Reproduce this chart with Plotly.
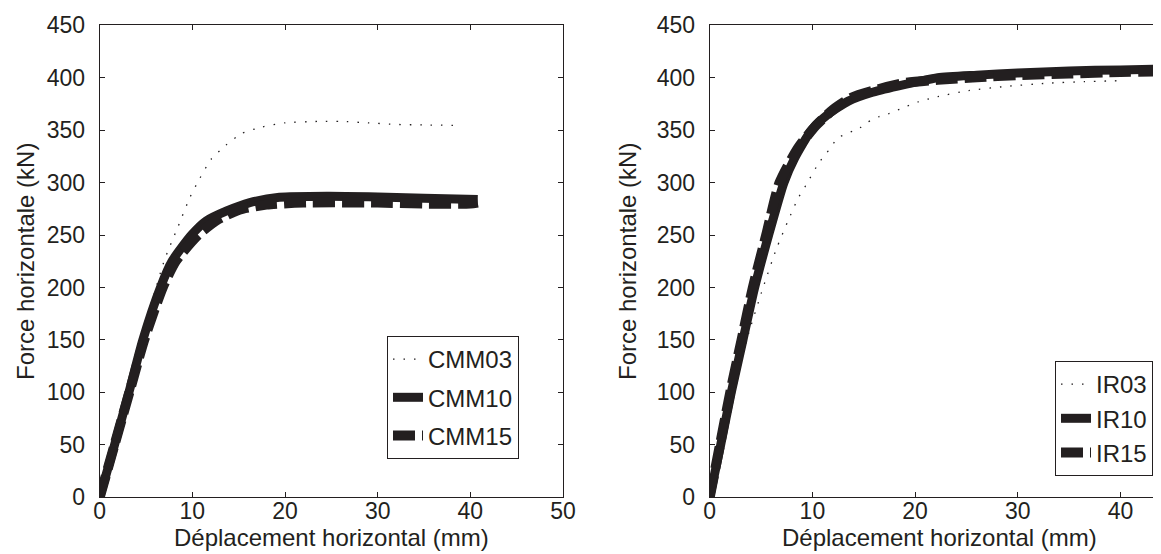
import plotly.graph_objects as go

# ---------------- data ----------------
# Left panel: CMM series  (x: mm, y: kN)
cmm03_x = [0, 1.5, 3.0, 4.4, 5.75, 7.0, 8.45, 9.74, 10.8, 12.0, 13.6, 15.3, 17.5, 20.0, 23.7, 26.0, 29.0, 32.0, 35.0, 39.1]
cmm03_y = [0, 50, 100, 150, 190, 226.5, 258, 286, 304, 322, 335.6, 346.7, 353, 357, 358.4, 358.4, 357, 355.5, 355, 354.5]

cmm10_x = [0, 1.6, 3.15, 4.65, 6.55, 7.8, 9.9, 11.5, 13.7, 16.2, 19.4, 24.5, 29.0, 35.0, 40.8]
cmm10_y = [0, 50, 100, 150, 200, 225, 250, 263.5, 273, 281, 286, 287, 286.5, 285, 284]

cmm15_x = [0, 1.6, 3.2, 4.8, 6.8, 8.2, 10.6, 12.8, 15.0, 18.0, 22.0, 30.0, 35.0, 40.0, 40.8]
cmm15_y = [0, 50, 100, 150, 200, 225, 250, 265, 274, 279, 281, 281, 280, 280, 281]

# Right panel: IR series
ir03_x = [0, 1.2, 2.3, 3.6, 5.2, 6.5, 7.56, 8.6, 9.4, 10.7, 11.3, 12.5, 14.6, 15.4, 16.5, 17.5, 18.5, 20.3, 22.2, 25.2, 28.9, 32.8, 36.5, 39.9]
ir03_y = [0, 50, 100, 150, 200, 237, 262, 285, 298, 320, 327, 342.6, 352, 357.8, 363, 366, 370, 377, 382, 387.7, 391.8, 394.7, 396.3, 397.2]

ir10_x = [0, 1.07, 2.1, 3.24, 4.38, 5.74, 7.23, 8.28, 9.9, 11.5, 13.5, 15.7, 18.3, 22.2, 26.0, 30.0, 35.0, 40.0, 45.0]
ir10_y = [0, 50, 100, 150, 200, 250, 300, 323.5, 350, 365, 377.7, 385.7, 392, 400, 402.5, 404.5, 406.5, 407.5, 408.5]

ir15_x = [0, 1.0, 2.0, 3.1, 4.2, 5.5, 6.8, 8.6, 10.4, 12.0, 13.8, 16.4, 19.0, 22.2, 26.0, 30.0, 35.0, 40.0, 45.0]
ir15_y = [0, 50, 100, 150, 200, 250, 300, 333, 355, 369.5, 381, 389, 395, 398, 400.5, 402.5, 404, 405.5, 406]

x_ticks_left = [0, 10, 20, 30, 40, 50]
x_ticks_right = [0, 10, 20, 30, 40]
y_ticks = [0, 50, 100, 150, 200, 250, 300, 350, 400, 450]

x_title = "Déplacement horizontal (mm)"
y_title = "Force horizontale (kN)"

# ---------------- styling ----------------
INK = "#231f20"
FONT = "Liberation Sans, Arial, Helvetica, sans-serif"
FS = 24
FS_TICK = 23
W, H = 1161, 554

DOT = dict(color=INK, width=1.3, dash="1.5px,9px")
SOLID = dict(color=INK, width=9)
DASH = dict(color=INK, width=10, dash="22px,7px")

fig = go.Figure()

series_left = [("CMM03", cmm03_x, cmm03_y, DOT),
               ("CMM10", cmm10_x, cmm10_y, SOLID),
               ("CMM15", cmm15_x, cmm15_y, DASH)]
series_right = [("IR03", ir03_x, ir03_y, DOT),
                ("IR10", ir10_x, ir10_y, SOLID),
                ("IR15", ir15_x, ir15_y, DASH)]

for name, xs, ys, ln in series_left:
    fig.add_trace(go.Scatter(x=xs, y=ys, name=name, mode="lines",
                             line=dict(shape="spline", smoothing=0.6, **ln),
                             xaxis="x", yaxis="y", legend="legend",
                             legendgroup=name))
for name, xs, ys, ln in series_right:
    fig.add_trace(go.Scatter(x=xs, y=ys, name=name, mode="lines",
                             line=dict(shape="spline", smoothing=0.6, **ln),
                             xaxis="x2", yaxis="y2", legend="legend2",
                             legendgroup=name))

def px_x(p):
    return p / W

def px_y(p):
    return (H - p) / H

axis_common = dict(
    showline=True, linecolor=INK, linewidth=1, mirror="ticks",
    ticks="inside", ticklen=5, tickwidth=1, tickcolor=INK,
    showgrid=False, zeroline=False,
    tickfont=dict(family=FONT, size=FS_TICK, color=INK),
    title_font=dict(family=FONT, size=FS, color=INK),
    automargin=False,
)

y_dom = [px_y(489.3), px_y(17.3)]

fig.update_layout(
    width=W, height=H,
    margin=dict(l=0, r=0, t=0, b=0, pad=0),
    paper_bgcolor="white", plot_bgcolor="white",
    font=dict(family=FONT, size=FS, color=INK),
    xaxis=dict(domain=[px_x(91.7), px_x(555)], range=[0, 50], tickvals=x_ticks_left,
               anchor="y", title=dict(text=x_title, standoff=3), ticklabelstandoff=-7, **axis_common),
    yaxis=dict(domain=y_dom, range=[0, 450], tickvals=y_ticks, anchor="x",
               title=dict(text=y_title, standoff=5), ticklabelstandoff=9, **axis_common),
    xaxis2=dict(domain=[px_x(701.7), 1.0], range=[0, (W - 701.7) / 10.27], tickvals=x_ticks_right,
                anchor="y2", title=dict(text=x_title, standoff=3), ticklabelstandoff=-7, **axis_common),
    yaxis2=dict(domain=y_dom, range=[0, 450], tickvals=y_ticks, anchor="x2",
                title=dict(text=y_title, standoff=13), ticklabelstandoff=9, **axis_common),
    legend=dict(x=px_x(511), y=px_y(451), xanchor="right", yanchor="bottom",
                bgcolor="white", bordercolor=INK, borderwidth=1,
                font=dict(family=FONT, size=FS, color=INK),
                traceorder="grouped", tracegroupgap=4),
    legend2=dict(x=px_x(1145), y=px_y(468), xanchor="right", yanchor="bottom",
                 bgcolor="white", bordercolor=INK, borderwidth=1,
                 font=dict(family=FONT, size=FS, color=INK),
                 traceorder="grouped", tracegroupgap=0),
    showlegend=True,
)

fig.write_html("out.html")
